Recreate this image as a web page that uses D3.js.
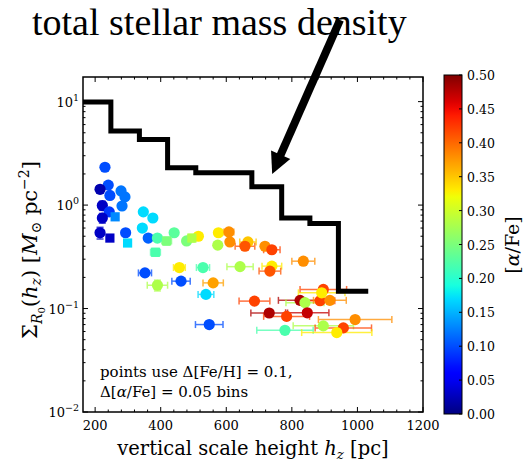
<!DOCTYPE html>
<html>
<head>
<meta charset="utf-8">
<script src="https://cdn.jsdelivr.net/npm/d3@7"></script>
<style>
  body { margin: 0; background: #fff; }
  svg text { fill: #000; }
</style>
</head>
<body>
<div id="chart"></div>
<script>
// vertical scale height (pc), surface density, [a/Fe], errors, marker
const hz = [230, 240, 215, 245, 279, 291, 282, 222, 243, 222, 261, 215, 245, 293, 299,
  347, 376, 344, 362, 390, 384, 418, 441, 479, 495, 515, 574, 576, 608, 611, 666, 657,
  718, 739, 529, 352, 457, 390, 462, 560, 538, 642, 739, 733, 835, 686, 731, 784, 825,
  840, 886, 916, 847, 896, 891, 548, 779, 993, 896, 957, 937];
const sigma = [2.32, 1.56, 1.42, 1.24, 1.37, 1.20, 0.98, 0.99, 0.86, 0.75, 0.77, 0.54, 0.48, 0.54, 0.43,
  0.86, 0.75, 0.60, 0.48, 0.48, 0.35, 0.45, 0.54, 0.45, 0.48, 0.50, 0.41, 0.54, 0.55, 0.44, 0.44, 0.40,
  0.40, 0.37, 0.249, 0.221, 0.249, 0.168, 0.184, 0.177, 0.137, 0.254, 0.257, 0.23, 0.287, 0.118, 0.0906, 0.084, 0.120,
  0.114, 0.119, 0.120, 0.091, 0.153, 0.142, 0.070, 0.0616, 0.0783, 0.068, 0.065, 0.0586];
const alphaFe = [0.10, 0.10, 0.02, 0.10, 0.12, 0.12, 0.12, 0.03, 0.09, 0.03, 0.13, 0.03, 0.03, 0.10, 0.17,
  0.17, 0.17, 0.17, 0.11, 0.22, 0.22, 0.25, 0.23, 0.25, 0.28, 0.33, 0.28, 0.33, 0.38, 0.38, 0.35, 0.41,
  0.38, 0.42, 0.22, 0.10, 0.33, 0.28, 0.10, 0.37, 0.17, 0.28, 0.33, 0.41, 0.38, 0.42, 0.48, 0.42, 0.48,
  0.28, 0.42, 0.38, 0.47, 0.42, 0.33, 0.10, 0.22, 0.38, 0.28, 0.42, 0.33];
const hzErr = [6, 6, 8, 6, 8, 8, 6, 8, 8, 8, 8, 10, 6, 6, 6,
  6, 6, 6, 6, 8, 15, 15, 8, 8, 12, 10, 8, 10, 15, 8, 25, 30,
  10, 25, 20, 20, 18, 31, 28, 31, 24, 40, 30, 33, 35, 47, 56, 70, 66,
  58, 45, 50, 66, 71, 71, 42, 86, 112, 92, 86, 107];
const sigmaErr = [0, 0, 0.12, 0, 0, 0, 0, 0.1, 0, 0.08, 0, 0.07, 0, 0, 0,
  0, 0, 0, 0, 0, 0.03, 0.04, 0, 0, 0.04, 0, 0, 0, 0, 0, 0, 0,
  0, 0, 0, 0, 0.02, 0.02, 0, 0, 0, 0, 0, 0, 0, 0, 0, 0, 0,
  0, 0, 0, 0, 0, 0, 0, 0, 0, 0, 0, 0];
const marker = ["o", "o", "o", "o", "o", "o", "o", "o", "o", "o", "s", "o", "s", "o", "s",
  "o", "o", "o", "o", "o", "s", "s", "o", "o", "s", "o", "o", "o", "o", "o", "o", "o",
  "o", "o", "o", "o", "o", "o", "o", "o", "o", "o", "o", "o", "o", "o", "o", "o", "o",
  "o", "o", "o", "o", "o", "o", "o", "o", "o", "o", "o", "o"];

// total stellar mass density (step histogram)
const stepEdges = [160, 248, 335, 421, 507, 593, 678, 769, 855, 942, 1033];
const stepValues = [9.9, 5.2, 4.3, 2.3, 2.05, 2.05, 1.5, 0.75, 0.665, 0.147];

const xTicks = [200, 400, 600, 800, 1000, 1200];
const yTicks = [0.01, 0.1, 1, 10];
const yTickExp = ["\u22122", "\u22121", "0", "1"];
const cbTicks = [0, 0.05, 0.1, 0.15, 0.2, 0.25, 0.3, 0.35, 0.4, 0.45, 0.5];
const arrowTip = [740, 2.0];

const W = 526, H = 464;
const plot = { left: 83, right: 423, top: 77, bottom: 412 };
const SERIF = "DejaVu Serif";

const svg = d3.select("#chart").append("svg")
  .attr("width", W).attr("height", H)
  .attr("font-family", SERIF);

const x = d3.scaleLinear().domain([163, 1200]).range([plot.left, plot.right]);
const y = d3.scaleLog().domain([0.01, 17.3]).range([plot.bottom, plot.top]);

// matplotlib jet colormap
function jet(t) {
  t = Math.max(0, Math.min(1, t));
  function seg(pts) {
    for (let i = 1; i < pts.length; i++) {
      if (t <= pts[i][0]) {
        const a = pts[i - 1], b = pts[i];
        return a[1] + (b[1] - a[1]) * (t - a[0]) / (b[0] - a[0]);
      }
    }
    return pts[pts.length - 1][1];
  }
  const r = seg([[0, 0], [0.35, 0], [0.66, 1], [0.89, 1], [1, 0.5]]);
  const g = seg([[0, 0], [0.125, 0], [0.375, 1], [0.64, 1], [0.91, 0], [1, 0]]);
  const b = seg([[0, 0.5], [0.11, 1], [0.34, 1], [0.65, 0], [1, 0]]);
  return d3.rgb(r * 255, g * 255, b * 255).toString();
}
const cnorm = d3.scaleLinear().domain([0, 0.5]).range([0, 1]).clamp(true);
const color = v => jet(cnorm(v));

// clip
svg.append("clipPath").attr("id", "clip").append("rect")
  .attr("x", plot.left).attr("y", plot.top)
  .attr("width", plot.right - plot.left).attr("height", plot.bottom - plot.top);

const pts = hz.map((h, i) => ({
  h: h, s: sigma[i], a: alphaFe[i], xe: hzErr[i], ye: sigmaErr[i], m: marker[i]
}));

const g = svg.append("g").attr("clip-path", "url(#clip)");

// error bars
const eb = g.append("g").selectAll("g").data(pts).enter().append("g")
  .attr("stroke", d => color(d.a)).attr("stroke-width", 1.5).attr("opacity", 0.75);
eb.append("line")
  .attr("x1", d => x(d.h - d.xe)).attr("x2", d => x(d.h + d.xe))
  .attr("y1", d => y(d.s)).attr("y2", d => y(d.s));
eb.append("line")
  .attr("x1", d => x(d.h - d.xe)).attr("x2", d => x(d.h - d.xe))
  .attr("y1", d => y(d.s) - 3.5).attr("y2", d => y(d.s) + 3.5);
eb.append("line")
  .attr("x1", d => x(d.h + d.xe)).attr("x2", d => x(d.h + d.xe))
  .attr("y1", d => y(d.s) - 3.5).attr("y2", d => y(d.s) + 3.5);
eb.filter(d => d.ye > 0).each(function(d) {
  const s = d3.select(this);
  const y0 = y(d.s - d.ye), y1 = y(d.s + d.ye);
  s.append("line").attr("x1", x(d.h)).attr("x2", x(d.h)).attr("y1", y0).attr("y2", y1);
  s.append("line").attr("x1", x(d.h) - 3.5).attr("x2", x(d.h) + 3.5).attr("y1", y0).attr("y2", y0);
  s.append("line").attr("x1", x(d.h) - 3.5).attr("x2", x(d.h) + 3.5).attr("y1", y1).attr("y2", y1);
});

// markers
const mk = g.append("g");
mk.selectAll("circle").data(pts.filter(d => d.m === "o")).enter().append("circle")
  .attr("cx", d => x(d.h)).attr("cy", d => y(d.s)).attr("r", 5.6)
  .attr("fill", d => color(d.a));
mk.selectAll("rect").data(pts.filter(d => d.m === "s")).enter().append("rect")
  .attr("x", d => x(d.h) - 4.6).attr("y", d => y(d.s) - 4.6)
  .attr("width", 9.2).attr("height", 9.2)
  .attr("fill", d => color(d.a));

// step line
const stepPts = [];
stepValues.forEach((v, i) => {
  stepPts.push([stepEdges[i], v]);
  stepPts.push([stepEdges[i + 1], v]);
});
g.append("path")
  .datum(stepPts)
  .attr("fill", "none").attr("stroke", "#000").attr("stroke-width", 5)
  .attr("stroke-linejoin", "miter")
  .attr("d", d3.line().x(d => x(d[0])).y(d => y(d[1])));

// frame and ticks
const axes = svg.append("g").attr("stroke", "#000").attr("stroke-width", 1);
const xMinor = d3.range(200, 1200, 40).filter(v => xTicks.indexOf(v) < 0 && v > 163);
xTicks.forEach(v => {
  axes.append("line").attr("x1", x(v)).attr("x2", x(v)).attr("y1", plot.bottom).attr("y2", plot.bottom - 5);
  axes.append("line").attr("x1", x(v)).attr("x2", x(v)).attr("y1", plot.top).attr("y2", plot.top + 5);
});
xMinor.forEach(v => {
  axes.append("line").attr("x1", x(v)).attr("x2", x(v)).attr("y1", plot.bottom).attr("y2", plot.bottom - 2.5);
  axes.append("line").attr("x1", x(v)).attr("x2", x(v)).attr("y1", plot.top).attr("y2", plot.top + 2.5);
});
const yMinor = [];
[0.01, 0.1, 1, 10].forEach(d => { for (let k = 2; k <= 9; k++) if (d * k < 17.3) yMinor.push(d * k); });
yTicks.forEach(v => {
  axes.append("line").attr("x1", plot.left).attr("x2", plot.left + 5).attr("y1", y(v)).attr("y2", y(v));
  axes.append("line").attr("x1", plot.right).attr("x2", plot.right - 5).attr("y1", y(v)).attr("y2", y(v));
});
yMinor.forEach(v => {
  axes.append("line").attr("x1", plot.left).attr("x2", plot.left + 2.5).attr("y1", y(v)).attr("y2", y(v));
  axes.append("line").attr("x1", plot.right).attr("x2", plot.right - 2.5).attr("y1", y(v)).attr("y2", y(v));
});
svg.append("rect")
  .attr("x", plot.left).attr("y", plot.top)
  .attr("width", plot.right - plot.left).attr("height", plot.bottom - plot.top)
  .attr("fill", "none").attr("stroke", "#000").attr("stroke-width", 1.5);

// tick labels
svg.append("g").selectAll("text").data(xTicks).enter().append("text")
  .attr("x", d => x(d)).attr("y", plot.bottom + 18)
  .attr("text-anchor", "middle").attr("font-size", 13)
  .text(d => d);
const yl = svg.append("g").selectAll("text").data(yTicks).enter().append("text")
  .attr("x", plot.left - 4).attr("y", d => y(d) + 5)
  .attr("text-anchor", "end").attr("font-size", 13);
yl.append("tspan").text("10");
yl.append("tspan").attr("dy", -6).attr("font-size", 9.5).text((d, i) => yTickExp[i]);

// axis labels
const xlab = svg.append("text").attr("x", 253).attr("y", 455)
  .attr("text-anchor", "middle").attr("font-size", 19.5);
xlab.append("tspan").text("vertical scale height ");
xlab.append("tspan").attr("font-style", "italic").text("h");
xlab.append("tspan").attr("font-size", 13.5).attr("font-style", "italic").attr("dy", 4).text("z");
xlab.append("tspan").attr("dy", -4).text(" [pc]");

const ylab = svg.append("text")
  .attr("transform", "translate(37,250) rotate(-90)")
  .attr("text-anchor", "middle").attr("font-size", 21);
ylab.append("tspan").text("\u03A3");
ylab.append("tspan").attr("font-size", 14).attr("font-style", "italic").attr("dy", 5).text("R");
ylab.append("tspan").attr("font-size", 10).attr("dy", 3).text("0");
ylab.append("tspan").attr("dy", -8).text("(");
ylab.append("tspan").attr("font-style", "italic").text("h");
ylab.append("tspan").attr("font-size", 14).attr("font-style", "italic").attr("dy", 4).text("z");
ylab.append("tspan").attr("dy", -4).text(") [");
ylab.append("tspan").attr("font-style", "italic").text("M");
ylab.append("tspan").attr("font-size", 14).attr("dy", 4).text("\u2299");
ylab.append("tspan").attr("dy", -4).text(" pc");
ylab.append("tspan").attr("font-size", 14).attr("dy", -8).text("\u22122");
ylab.append("tspan").attr("dy", 8).text("]");

// note
const note = svg.append("g").attr("font-size", 15);
const n1 = note.append("text").attr("x", 100).attr("y", 377);
n1.append("tspan").text("points use \u0394[Fe/H] = 0.1,");
const n2 = note.append("text").attr("x", 100).attr("y", 397);
n2.append("tspan").text("\u0394[");
n2.append("tspan").attr("font-style", "italic").text("\u03B1");
n2.append("tspan").text("/Fe] = 0.05 bins");

// colorbar
const cb = { x: 444, w: 18, top: 75, bottom: 414 };
const cy = d3.scaleLinear().domain([0, 0.5]).range([cb.bottom, cb.top]);
const grad = svg.append("defs").append("linearGradient").attr("id", "jet")
  .attr("x1", 0).attr("y1", 1).attr("x2", 0).attr("y2", 0);
d3.range(0, 1.0001, 0.02).forEach(t => {
  grad.append("stop").attr("offset", t).attr("stop-color", jet(t));
});
svg.append("rect").attr("x", cb.x).attr("y", cb.top)
  .attr("width", cb.w).attr("height", cb.bottom - cb.top)
  .attr("fill", "url(#jet)").attr("stroke", "#000").attr("stroke-width", 1);
svg.append("g").selectAll("line").data(cbTicks).enter().append("line")
  .attr("x1", cb.x + cb.w).attr("x2", cb.x + cb.w - 3)
  .attr("y1", d => cy(d)).attr("y2", d => cy(d))
  .attr("stroke", "#000");
svg.append("g").selectAll("text").data(cbTicks).enter().append("text")
  .attr("x", cb.x + cb.w + 5).attr("y", d => cy(d) + 5)
  .attr("font-size", 12.5)
  .text(d => d.toFixed(2));
const cbl = svg.append("text")
  .attr("transform", "translate(519,245) rotate(-90)")
  .attr("text-anchor", "middle").attr("font-size", 19);
cbl.append("tspan").text("[");
cbl.append("tspan").attr("font-style", "italic").text("\u03B1");
cbl.append("tspan").text("/Fe]");

// title + arrow
svg.append("text").attr("x", 32).attr("y", 35)
  .attr("font-family", "Liberation Serif")
  .attr("font-size", 38).text("total stellar mass density");

const tip = [x(arrowTip[0]), y(arrowTip[1])];
const tail = [340, 20];
const dx = tip[0] - tail[0], dy = tip[1] - tail[1];
const len = Math.sqrt(dx * dx + dy * dy);
const ux = dx / len, uy = dy / len;
const headLen = 21, headHalf = 10.5;
const base = [tip[0] - ux * headLen, tip[1] - uy * headLen];
svg.append("line")
  .attr("x1", tail[0]).attr("y1", tail[1])
  .attr("x2", base[0] + ux * 2).attr("y2", base[1] + uy * 2)
  .attr("stroke", "#000").attr("stroke-width", 8);
svg.append("path")
  .attr("d", "M" + tip + "L" + [base[0] - uy * headHalf, base[1] + ux * headHalf] +
    "L" + [base[0] + uy * headHalf, base[1] - ux * headHalf] + "Z")
  .attr("fill", "#000");
</script>
</body>
</html>
